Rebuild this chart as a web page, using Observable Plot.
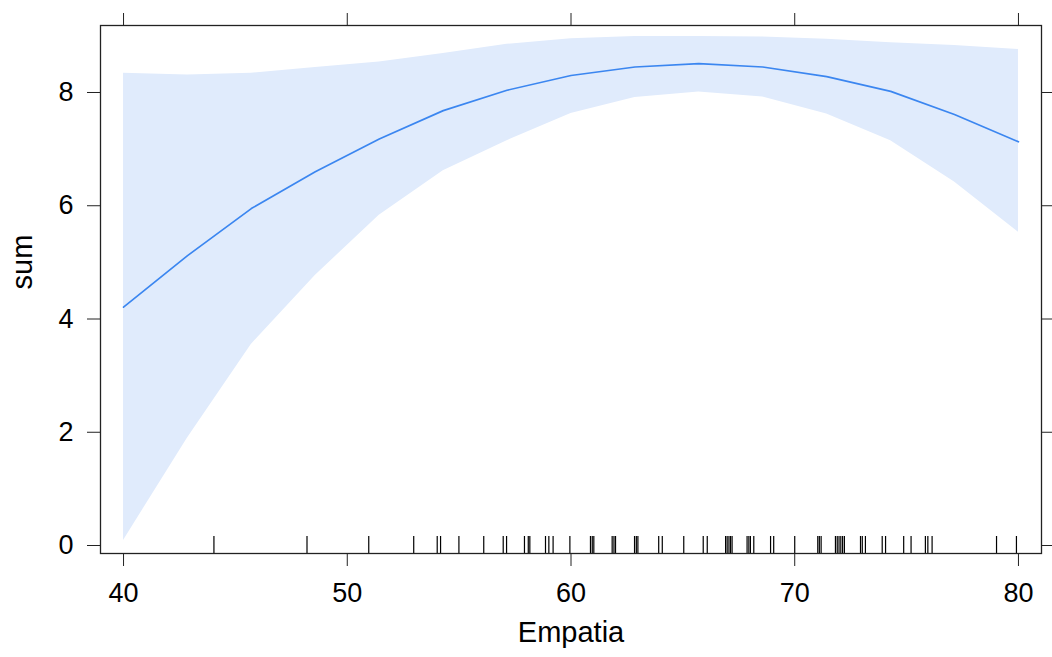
<!DOCTYPE html>
<html><head><meta charset="utf-8">
<script src="https://cdn.jsdelivr.net/npm/d3@7"></script>
<script src="https://cdn.jsdelivr.net/npm/@observablehq/plot@0.6"></script>
<style>html,body{margin:0;padding:0;background:#fff} svg{display:block}</style>
</head><body><div id="chart"></div>
<script>
// Effect of Empatia on sum (fitted curve with confidence band)
const empatia = [40, 42.86, 45.71, 48.57, 51.43, 54.29, 57.14, 60, 62.86, 65.71, 68.57, 71.43, 74.29, 77.14, 80];
const fit   = [4.21, 5.12, 5.95, 6.60, 7.18, 7.68, 8.04, 8.30, 8.45, 8.51, 8.45, 8.28, 8.02, 7.61, 7.13];
const upper = [8.34, 8.31, 8.34, 8.44, 8.54, 8.69, 8.85, 8.95, 8.99, 8.99, 8.98, 8.94, 8.88, 8.83, 8.76];
const lower = [0.09, 1.90, 3.55, 4.77, 5.83, 6.62, 7.15, 7.63, 7.91, 8.01, 7.92, 7.62, 7.15, 6.42, 5.53];

// Observed Empatia values (rug)
const rug = [44.04, 48.2, 50.96, 52.97, 54.02, 54.17, 54.99, 56.10, 56.97, 57.12, 57.92, 58.09, 58.16,
  58.86, 59.01, 59.20, 59.95, 60.87, 60.95, 61.02, 61.84, 61.92, 61.99, 62.84, 62.92, 62.99, 63.92,
  64.08, 65.04, 65.91, 66.09, 66.91, 66.98, 67.06, 67.13, 67.20, 67.87, 67.95, 68.02, 68.17, 68.92,
  69.06, 70.0, 71.03, 71.10, 71.18, 71.82, 71.90, 71.98, 72.06, 72.14, 72.22, 72.94, 73.02, 73.16,
  73.91, 74.06, 74.87, 75.2, 75.84, 75.95, 76.14, 79.02, 79.91];

const xTicks = [40, 50, 60, 70, 80];
const yTicks = [0, 2, 4, 6, 8];
const xTitle = ["Empatia"];
const yTitle = ["sum"];

const data = empatia.map((x, i) => ({x, fit: fit[i], lower: lower[i], upper: upper[i]}));

const chart = Plot.plot({
  width: 1052, height: 657,
  marginLeft: 100, marginRight: 11, marginTop: 25, marginBottom: 104,
  style: {fontFamily: "'Liberation Sans', Arial, sans-serif", background: "#fff", color: "#000"},
  x: {domain: [38.97, 81.03]},
  y: {domain: [-0.141, 9.183]},
  marks: [
    Plot.areaY(data, {x: "x", y1: "lower", y2: "upper", fill: "#e0ebfc"}),
    Plot.line(data, {x: "x", y: "fit", stroke: "#3b86f0", strokeWidth: 1.7}),
    Plot.ruleX(rug, {x: d => d, insetTop: 511, stroke: "#000", strokeWidth: 1.2}),
    Plot.frame({stroke: "#222", strokeWidth: 1.3}),
    Plot.axisX(xTicks, {anchor: "bottom", tickSize: 13, tickPadding: 16, fontSize: 27, label: null, stroke: "#222", tickFormat: d => String(d)}),
    Plot.axisX(xTicks, {anchor: "top", tickSize: 13, tickFormat: () => "", label: null, stroke: "#222"}),
    Plot.axisY(yTicks, {anchor: "left", tickSize: 13, tickPadding: 14, fontSize: 27, label: null, stroke: "#222", tickFormat: d => String(d)}),
    Plot.axisY(yTicks, {anchor: "right", tickSize: 10, tickFormat: () => "", label: null, stroke: "#222"}),
    Plot.text(xTitle, {text: d => d, frameAnchor: "bottom", dy: 88, fontSize: 29}),
    Plot.text(yTitle, {text: d => d, frameAnchor: "left", dx: -78, rotate: -90, fontSize: 29})
  ]
});
document.getElementById("chart").appendChild(chart);
</script>
</body></html>
